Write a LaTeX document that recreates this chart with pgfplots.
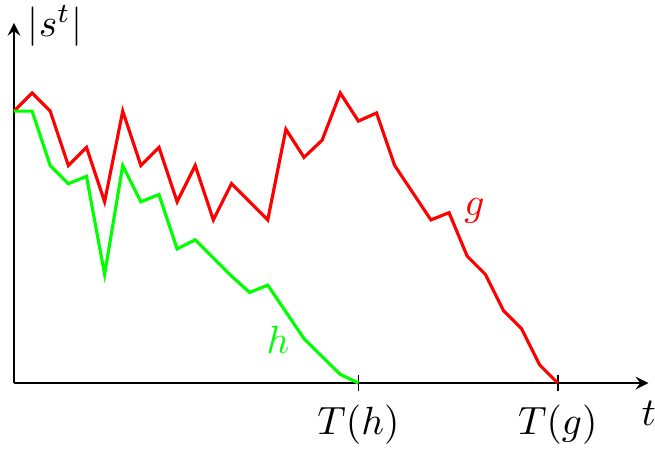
\documentclass[border=0pt]{standalone}
\usepackage{pgfplots}
\pgfplotsset{compat=1.18}
\pgfplotstableread{
t v
0 15
1 16
2 15
3 12
4 13
5 10
6 15
7 12
8 13
9 10
10 12
11 9
12 11
13 10
14 9
15 14
16 12.45
17 13.4
18 16
19 14.45
20 14.9
21 12
22 10.5
23 9
24 9.4
25 7
26 6
27 4
28 3
29 1
30 0
}\gdata
\pgfplotstableread{
t v
0 15
1 15
2 12
3 11
4 11.4
5 6
6 12
7 10
8 10.4
9 7.4
10 7.9
11 6.9
12 5.9
13 5
14 5.4
15 3.93
16 2.45
17 1.46
18 0.48
19 0
}\hdata
\begin{document}
\begin{tikzpicture}
\begin{axis}[
  x=4.6pt, y=4.6pt,
  axis lines=left,
  xmin=0, xmax=35, ymin=0, ymax=19.87,
  xtick={19,30}, xticklabels={$T(h)$,$T(g)$},
  ytick=\empty,
  tick align=center,
  major tick length=4.27pt,
  clip=false,
  axis line style={line width=0.45pt},
  every tick/.style={black, line width=0.45pt},
]
\coordinate (bbsw) at (axis cs:-0.77,-3.86);
\coordinate (bbne) at (axis cs:35.36,21.13);
\addplot[red, line width=0.8pt, mark=none] table[x=t,y=v] {\gdata};
\addplot[green, line width=0.8pt, mark=none] table[x=t,y=v] {\hdata};
\node[red] at (axis cs:25.4,9.5) {$g$};
\node[green] at (axis cs:14.56,2.37) {$h$};
\node at (axis cs:2.26,19.69) {$|s^t|$};
\node at (axis cs:35.01,-1.65) {$t$};
\end{axis}
\pgfresetboundingbox
\path[use as bounding box] (bbsw) rectangle (bbne);
\end{tikzpicture}
\end{document}
